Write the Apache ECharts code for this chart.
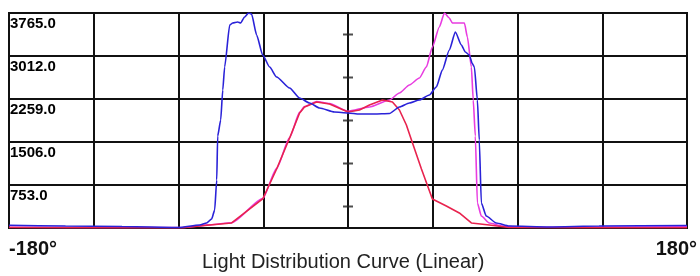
<!DOCTYPE html>
<html lang="en">
  <head>
    <meta charset="UTF-8" />
    <title>Light Distribution Curve</title>
    <style>
      html, body { margin: 0; padding: 0; background: #fff; }
      #main { width: 700px; height: 276px; }
    </style>
  </head>
  <body>
    <div id="main"></div>
    <script src="https://cdn.jsdelivr.net/npm/echarts@6/dist/echarts.min.js"></script>
    <script>
      // y ticks: 5 equal steps of 753 cd
      const yStep = 753;
      const yMax = 3765;
      // small marks on the 0° line, half way between grid lines
      const centerMarks = [376.5, 1129.5, 1882.5, 2635.5, 3388.5];
      const xEndLabels = { "-180": "-180°", "180": "{r|180°}" };

      // blue curve
      const blueAngles = [-180, -150, -120, -90, -78.8, -75.1, -72.4, -70.8, -69.7, -69.2, -67.6, -66.5, -65.5, -62.8,
        -61.2, -58.6, -57, -54.9, -52.8, -51.2, -48.5, -45.3, -41.6, -37.9, -31, -25.7, -20.4, -15.1, -7.2, 0,
        6, 14, 22, 27.3, 32.6, 37.9, 43.2, 46.9, 50.1, 53.8, 57, 60.2, 62.3, 64.4, 66, 67.1, 68.7, 69.7, 70.8,
        73.4, 78.7, 85.6, 106.8, 133.3, 180];
      const blueValues = [47, 35, 26, 9, 53, 88, 158, 315, 840, 1611, 1891, 2416, 2819, 3555,
        3590, 3607, 3590, 3695, 3765, 3747, 3379, 3029, 2819, 2644, 2451, 2276, 2189, 2101, 2031, 2014,
        1996, 1996, 2005, 2119, 2189, 2241, 2329, 2469, 2767, 3117, 3432, 3204, 3082, 3029, 2880, 2819, 2241, 1541, 438,
        210, 88, 35, 18, 35, 45];

      // magenta curve
      const magentaAngles = [-180, -120, -88, -73.4, -61.8, -45.3, -37.9, -31, -25.7, -23.1, -16.7, -9.8, 0,
        11.4, 22, 27.3, 32.6, 37.9, 41.6, 44.8, 48.5, 51.2, 53.8, 55.4, 61.8, 63.4, 65.5, 66.5, 67.6, 68.7,
        70.8, 75, 81.9, 90, 130, 180];
      const magentaValues = [12, 8, 8, 55, 92, 515, 1045, 1585, 2025, 2125, 2215, 2180, 2045,
        2119, 2241, 2364, 2504, 2627, 2819, 3169, 3520, 3765, 3677, 3590, 3590, 3344, 2819, 2241, 1611, 438,
        210, 88, 35, 12, 15, 20];

      // red curve
      const redAngles = [-180, -120, -88, -73.4, -61.8, -45.3, -37.9, -31, -25.7, -23.1, -16.7, -9.8, 0,
        6.1, 11.4, 18.3, 23.6, 27.3, 31, 33.7, 39, 44.8, 52.2, 59.1, 65.5, 75, 85.6, 120, 180];
      const redValues = [10, 5, 5, 53, 88, 508, 1033, 1576, 2014, 2119, 2206, 2171, 2031,
        2066, 2154, 2241, 2206, 2066, 1804, 1541, 1033, 508, 385, 263, 88, 53, 9, 5, 5];

      const font = "'Liberation Sans', Arial, sans-serif";
      const pairs = (xs, ys) => xs.map((x, i) => [x, ys[i]]);

      const myChart = echarts.init(document.getElementById("main"));
      const option = {
        animation: false,
        title: {
          text: "Light Distribution Curve (Linear)",
          left: 202,
          top: 252,
          padding: 0,
          textStyle: { fontFamily: font, fontSize: 20, fontWeight: "normal", color: "#222" },
        },
        grid: {
          left: 9, right: 12, top: 13, bottom: 48,
          show: true, borderColor: "#111", borderWidth: 2,
        },
        xAxis: {
          type: "value",
          min: -180,
          max: 180,
          interval: 45,
          axisLine: { show: false },
          axisTick: { show: false },
          splitLine: { lineStyle: { color: "#111", width: 2 } },
          axisLabel: {
            showMinLabel: true,
            showMaxLabel: true,
            alignMinLabel: "left",
            alignMaxLabel: "center",
            margin: 11,
            fontFamily: font,
            fontSize: 20,
            fontWeight: "bold",
            color: "#111",
            formatter: (v) => xEndLabels[String(v)] || "",
            rich: {
              // right label runs a little past the plot edge
              r: { width: 20, align: "right", fontFamily: font, fontSize: 20, fontWeight: "bold", color: "#111" },
            },
          },
        },
        yAxis: {
          type: "value",
          min: 0,
          max: yMax,
          interval: yStep,
          axisLine: { show: false },
          axisTick: { show: false },
          splitLine: { lineStyle: { color: "#111", width: 2 } },
          axisLabel: {
            inside: true,
            margin: 1,
            verticalAlign: "top",
            padding: [3, 0, 0, 0],
            fontFamily: font,
            fontSize: 15,
            fontWeight: "bold",
            color: "#000",
            formatter: (v) => (v === 0 ? "" : v.toFixed(1)),
          },
        },
        series: [
          {
            type: "scatter",
            silent: true,
            symbol: "rect",
            symbolSize: [10, 2],
            itemStyle: { color: "#222" },
            data: centerMarks.map((v) => [0, v]),
          },
          {
            name: "magenta",
            type: "line",
            symbol: "none",
            smooth: 0.2,
            smoothMonotone: "x",
            lineStyle: { color: "#e83ce0", width: 1.6 },
            data: pairs(magentaAngles, magentaValues),
          },
          {
            name: "red",
            type: "line",
            symbol: "none",
            lineStyle: { color: "#e8234e", width: 1.6 },
            data: pairs(redAngles, redValues),
          },
          {
            name: "blue",
            type: "line",
            symbol: "none",
            smooth: 0.2,
            smoothMonotone: "x",
            lineStyle: { color: "#2a22d8", width: 1.6 },
            data: pairs(blueAngles, blueValues),
          },
        ],
      };
      myChart.setOption(option);
    </script>
  </body>
</html>
